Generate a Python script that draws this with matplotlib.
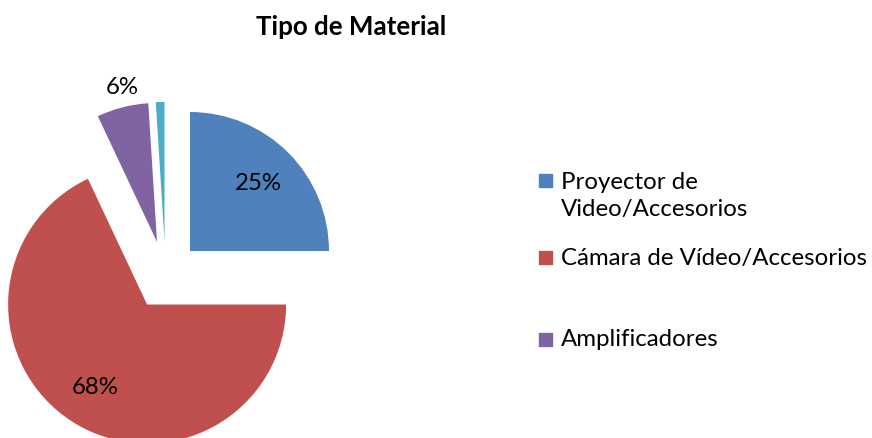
import matplotlib.pyplot as plt
from matplotlib.patches import Rectangle

# data
categories = ['Proyector de\nVideo/Accesorios', 'Cámara de Vídeo/Accesorios', 'Amplificadores', 'Otros']
values = [25, 68, 6, 1]
colors = ['#4F81BD', '#C0504D', '#8064A2', '#4BACC6']

plt.rcParams['font.family'] = ['Lato', 'DejaVu Sans']

fig = plt.figure(figsize=(8.72, 4.39), dpi=100)
ax = fig.add_axes([0, 0, 1, 1])

wedges, texts, autotexts = ax.pie(
    values, colors=colors, startangle=90, counterclock=False,
    explode=[34.5] * len(values), radius=139, center=(165.6, 162.6),
    autopct='%1.0f%%', pctdistance=0.7, frame=True,
    textprops={'fontsize': 17.3, 'color': 'black'},
    wedgeprops={'linewidth': 0})
ax.set_xlim(0, 872)
ax.set_ylim(0, 439)
ax.set_aspect('equal')
ax.axis('off')

# the small slice has no label, the 6% label sits outside its slice
autotexts[3].set_visible(False)
autotexts[2].set_position((122, 351))

fig.text(351 / 872, 1 - 27 / 439, 'Tipo de Material', ha='center', va='center',
         fontsize=18.6, fontweight='bold')

# legend (only three entries are visible)
legend_y = [196, 258, 340]
for cat, col, ly in zip(categories[:3], colors[:3], legend_y):
    top = 181 if '\n' in cat else ly
    ax.add_patch(Rectangle((539, 439 - top - 6.5), 13, 13, color=col))
    ax.text(561, 439 - ly, cat, ha='left', va='center', fontsize=17.3,
            linespacing=1.3)

fig.savefig('out.png', dpi=100)
